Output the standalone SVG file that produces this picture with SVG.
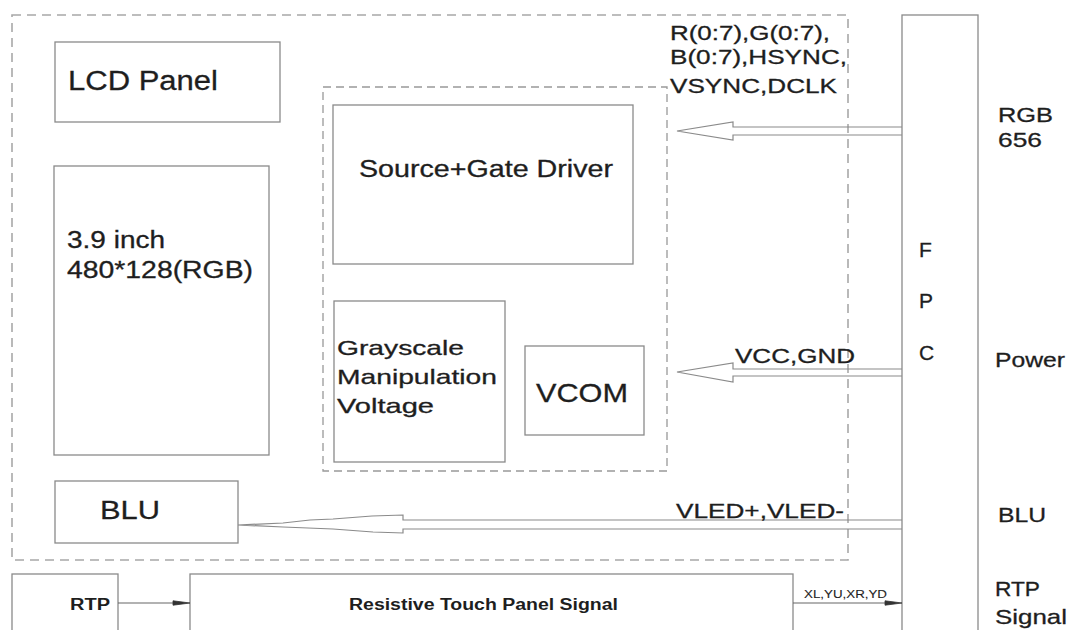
<svg xmlns="http://www.w3.org/2000/svg" width="1070" height="630" viewBox="0 0 1070 630">
<style>
  .bg { fill: #ffffff; }
  .box { fill: none; stroke: #8a8a8a; stroke-width: 1.3; }
  .dash-outer { fill: none; stroke: #a8a8a8; stroke-width: 1.6; stroke-dasharray: 9 6; }
  .dash-inner { fill: none; stroke: #999999; stroke-width: 1.3; stroke-dasharray: 8 5; }
  .conn { fill: none; stroke: #8a8a8a; stroke-width: 1.2; }
  .line { fill: none; stroke: #666666; stroke-width: 1.2; }
  .head { fill: #333333; stroke: #333333; stroke-width: 0.8; }
  text { font-family: "Liberation Sans", Arial, sans-serif; fill: #1e1e1e; stroke: #1e1e1e; stroke-width: 0.3; }
  .t23 { font-size: 23px; }
  .t21 { font-size: 21px; }
  .t17b { font-size: 16px; font-weight: bold; stroke-width: 0; }
  .t10 { font-size: 10px; stroke-width: 0.1; }
</style>
<rect class="bg" x="0" y="0" width="1070" height="630"/>

<g id="module-frame">
  <rect class="dash-outer" x="12" y="15" width="836" height="545"/>
</g>
<g id="driver-frame">
  <rect class="dash-inner" x="323" y="87" width="344" height="384"/>
</g>

<g id="lcd-panel">
  <rect class="box" x="55" y="42" width="225" height="80"/>
  <text x="68" y="90" font-size="27" textLength="150" lengthAdjust="spacingAndGlyphs">LCD Panel</text>
</g>

<g id="display">
  <rect class="box" x="54" y="166" width="215" height="289"/>
  <text class="t23" x="67" y="248" textLength="98" lengthAdjust="spacingAndGlyphs">3.9 inch</text>
  <text class="t23" x="67" y="278" textLength="186" lengthAdjust="spacingAndGlyphs">480*128(RGB)</text>
</g>

<g id="source-gate-driver">
  <rect class="box" x="333" y="105" width="300" height="159"/>
  <text class="t23" x="359" y="177" textLength="254" lengthAdjust="spacingAndGlyphs">Source+Gate Driver</text>
</g>

<g id="grayscale">
  <rect class="box" x="334" y="301" width="171" height="161"/>
  <text class="t21" x="337" y="355" textLength="127" lengthAdjust="spacingAndGlyphs">Grayscale</text>
  <text class="t21" x="337" y="384" textLength="160" lengthAdjust="spacingAndGlyphs">Manipulation</text>
  <text class="t21" x="337" y="413" textLength="97" lengthAdjust="spacingAndGlyphs">Voltage</text>
</g>

<g id="vcom">
  <rect class="box" x="525" y="346" width="119" height="89"/>
  <text x="536" y="402" font-size="26" textLength="92" lengthAdjust="spacingAndGlyphs">VCOM</text>
</g>

<g id="blu-box">
  <rect class="box" x="55" y="481" width="183" height="62"/>
  <text x="100" y="519" font-size="26" textLength="60" lengthAdjust="spacingAndGlyphs">BLU</text>
</g>

<g id="fpc">
  <rect class="box" x="902" y="15" width="76" height="630"/>
  <text class="t21" x="919" y="257">F</text>
  <text class="t21" x="919" y="308">P</text>
  <text class="t21" x="919" y="360">C</text>
</g>

<g id="rtp">
  <rect class="box" x="12" y="574" width="106" height="70"/>
  <text class="t17b" x="70" y="610" textLength="40" lengthAdjust="spacingAndGlyphs">RTP</text>
</g>

<g id="rtp-signal">
  <rect class="box" x="190" y="574" width="603" height="70"/>
  <text class="t17b" x="349" y="610" textLength="269" lengthAdjust="spacingAndGlyphs">Resistive Touch Panel Signal</text>
</g>

<g id="connectors">
  <path class="conn" d="M902 127 L733 127 L733 122 L677 131 L733 140 L733 135 L902 135"/>
  <path class="conn" d="M902 369 L733 369 L733 363 L677 372 L733 382 L733 376 L902 376"/>
  <path class="conn" d="M902 520 L403 520 L403 515 L372 516 L333 519 L310 520 L283 523 L238 525 L283 527 L333 529 L373 532 L403 533 L403 529 L902 529"/>
  <line class="line" x1="118" y1="603" x2="175" y2="603"/>
  <polygon class="head" points="173,600.8 190,603 173,605.2"/>
  <line class="line" x1="793" y1="603" x2="886" y2="603"/>
  <polygon class="head" points="885,600.8 902,603 885,605.2"/>
</g>

<g id="labels">
  <text class="t21" x="670" y="40" textLength="160" lengthAdjust="spacingAndGlyphs">R(0:7),G(0:7),</text>
  <text class="t21" x="670" y="64" textLength="177" lengthAdjust="spacingAndGlyphs">B(0:7),HSYNC,</text>
  <text class="t21" x="670" y="93" textLength="167" lengthAdjust="spacingAndGlyphs">VSYNC,DCLK</text>
  <text class="t21" x="735" y="363" textLength="120" lengthAdjust="spacingAndGlyphs">VCC,GND</text>
  <text class="t21" x="676" y="518" textLength="168" lengthAdjust="spacingAndGlyphs">VLED+,VLED-</text>
  <text class="t10" x="804" y="598" textLength="83" lengthAdjust="spacingAndGlyphs">XL,YU,XR,YD</text>
  <text class="t21" x="998" y="122" textLength="55" lengthAdjust="spacingAndGlyphs">RGB</text>
  <text class="t21" x="998" y="147" textLength="44" lengthAdjust="spacingAndGlyphs">656</text>
  <text class="t21" x="995" y="367" textLength="70" lengthAdjust="spacingAndGlyphs">Power</text>
  <text class="t21" x="998" y="522" textLength="48" lengthAdjust="spacingAndGlyphs">BLU</text>
  <text class="t21" x="995" y="596" textLength="45" lengthAdjust="spacingAndGlyphs">RTP</text>
  <text class="t21" x="995" y="624" textLength="72" lengthAdjust="spacingAndGlyphs">Signal</text>
</g>
</svg>
